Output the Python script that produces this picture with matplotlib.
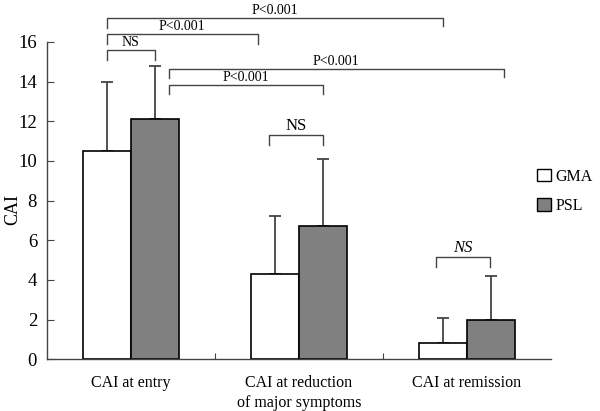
import numpy as np
import matplotlib.pyplot as plt
from matplotlib.patches import Patch

plt.rcParams['font.family'] = ['Liberation Serif', 'DejaVu Serif']

categories = ['CAI at entry', 'CAI at reduction\nof major symptoms', 'CAI at remission']
gma_mean = [10.5, 4.3, 0.8]
gma_sd = [3.5, 2.9, 1.3]
psl_mean = [12.1, 6.7, 2.0]
psl_sd = [2.7, 3.4, 2.2]
y_ticks = [0, 2, 4, 6, 8, 10, 12, 14, 16]

# brackets: (x_left, x_right, y_line, drop_left, drop_right, label, size, italic)
brackets = [
    (-0.143, 1.857, 17.2, 0.5, 0.4, 'P<0.001', 10, False),
    (-0.143, 0.756, 16.4, 0.5, 0.5, 'P<0.001', 10, False),
    (-0.143, 0.143, 15.6, 0.5, 0.5, 'NS', 10, False),
    (0.226, 2.22, 14.65, 0.45, 0.4, 'P<0.001', 10, False),
    (0.226, 1.143, 13.85, 0.5, 0.5, 'P<0.001', 10, False),
    (0.82, 1.143, 11.3, 0.5, 0.5, 'NS', 12, False),
    (1.814, 2.136, 5.13, 0.5, 0.5, 'NS', 12, True),
]

fig = plt.figure(figsize=(6, 4.11), dpi=100)
ax = fig.add_axes([0.078, 0.126, 0.84, 0.772])

x = np.arange(len(categories))
w = 0.285
line_col = '#444444'
ax.bar(x - w / 2, gma_mean, w, color='white', edgecolor='black', linewidth=1.2, zorder=2)
ax.bar(x + w / 2, psl_mean, w, color='#808080', edgecolor='black', linewidth=1.2, zorder=2)
ax.errorbar(x - w / 2, gma_mean, yerr=[np.zeros(3), gma_sd], fmt='none',
            ecolor=line_col, elinewidth=1.3, capsize=4, capthick=1.3, zorder=1)
ax.errorbar(x + w / 2, psl_mean, yerr=[np.zeros(3), psl_sd], fmt='none',
            ecolor=line_col, elinewidth=1.3, capsize=4, capthick=1.3, zorder=1)

for x0, x1, yl, d0, d1, lab, fs, it in brackets:
    ax.plot([x0, x0, x1, x1], [yl - d0, yl, yl, yl - d1], color=line_col,
            lw=1.0, clip_on=False)
    ax.text((x0 + x1) / 2, yl + 0.05, lab, ha='center', va='bottom',
            fontsize=fs, style='italic' if it else 'normal', clip_on=False)

ax.set_xlim(-0.5, 2.5)
ax.set_ylim(0, 16)
ax.set_yticks(y_ticks)
ax.set_yticklabels([str(t) for t in y_ticks], fontsize=13.5)
ax.set_xticks([0.5, 1.5])
ax.set_xticklabels([])
ax.tick_params(axis='x', direction='in', length=4, color=line_col)
ax.tick_params(axis='y', direction='in', length=5, color=line_col, pad=7)
for t, lab in zip(x, categories):
    ax.text(t, -0.8, lab, ha='center', va='top', fontsize=11.5, linespacing=1.3)
fig.text(0.022, 0.49, 'CAI', rotation=90, ha='center', va='center', fontsize=13)

for s in ['top', 'right']:
    ax.spines[s].set_visible(False)
for s in ['left', 'bottom']:
    ax.spines[s].set_color(line_col)
    ax.spines[s].set_linewidth(1.0)

handles = [Patch(facecolor='white', edgecolor='black', label='GMA'),
           Patch(facecolor='#808080', edgecolor='black', label='PSL')]
fig.legend(handles=handles, loc='upper left', bbox_to_anchor=(0.895, 0.59),
           frameon=False, fontsize=11.5, handlelength=0.85, handleheight=0.85,
           handletextpad=0.3, labelspacing=0.85, borderpad=0, borderaxespad=0)

fig.savefig('out.png', dpi=100)
